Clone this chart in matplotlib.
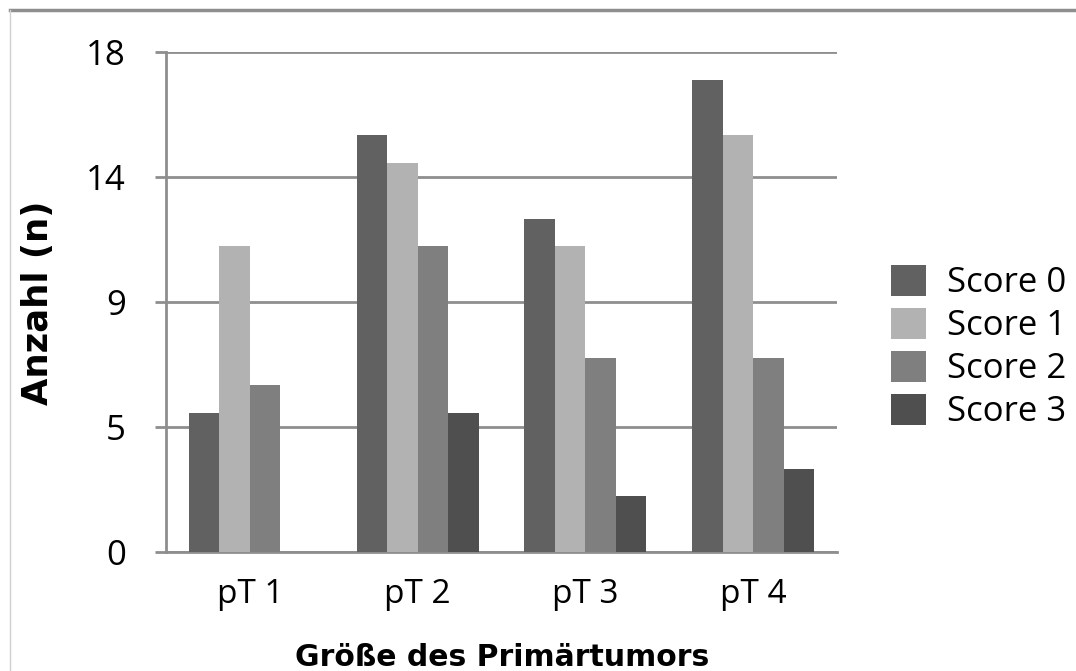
import numpy as np
import matplotlib.pyplot as plt
from matplotlib.lines import Line2D

categories = ['pT 1', 'pT 2', 'pT 3', 'pT 4']
series_names = ['Score 0', 'Score 1', 'Score 2', 'Score 3']
score0 = [5, 15, 12, 17]
score1 = [11, 14, 11, 15]
score2 = [6, 11, 7, 7]
score3 = [0, 5, 2, 3]
ytick_vals = [0, 4.5, 9, 13.5, 18]
ytick_labels = ['0', '5', '9', '14', '18']

colors = ['#616161', '#b2b2b2', '#7f7f7f', '#4f4f4f']
grid_col = '#8e8e8e'

fig = plt.figure(figsize=(10.76, 6.71), dpi=100)
ax = fig.add_axes([166/1076, 1 - 552/671, (837-166)/1076, (552-52)/671])

x = np.arange(len(categories))
w = 0.182
for i, vals in enumerate([score0, score1, score2, score3]):
    ax.bar(x + (i - 1.5) * w, vals, width=w, color=colors[i], label=series_names[i], zorder=3)

ax.set_xlim(-0.5, 3.5)
ax.set_ylim(0, 18)
ax.set_yticks(ytick_vals)
ax.set_yticklabels(ytick_labels, fontsize=25, family='Open Sans')
ax.set_xticks(x)
ax.set_xticklabels(categories, fontsize=24, family='Open Sans')
ax.tick_params(axis='y', length=8, width=2, color=grid_col, pad=21)
ax.tick_params(axis='x', length=0, pad=19)
ax.yaxis.grid(True, color=grid_col, linewidth=2, zorder=0)
for s in ['top', 'right']:
    ax.spines[s].set_visible(False)
for s in ['left', 'bottom']:
    ax.spines[s].set_color(grid_col)
    ax.spines[s].set_linewidth(2)

# axis titles
fig.text(38/1076, 1 - 303/671, 'Anzahl (n)', rotation=90, ha='center', va='center',
         fontsize=25.5, fontweight='bold', family='DejaVu Sans')
fig.text(502/1076, 1 - 666/671, 'Größe des Primärtumors', ha='center', va='baseline',
         fontsize=21.5, fontweight='bold', family='DejaVu Sans')

leg = fig.legend(loc='center left', bbox_to_anchor=(874/1076, 1 - 347/671), frameon=False,
                 prop={'family': 'Open Sans', 'size': 25}, handlelength=1.0, handleheight=1.0,
                 handletextpad=0.6, labelspacing=0.22, borderpad=0)

# outer border
fig.add_artist(Line2D([10/1076, 1], [1 - 10/671, 1 - 10/671], color=grid_col, linewidth=2.5))
fig.add_artist(Line2D([10/1076, 10/1076], [0, 1 - 10/671], color='#d0d0d0', linewidth=1))

fig.savefig('out.png', dpi=100)
